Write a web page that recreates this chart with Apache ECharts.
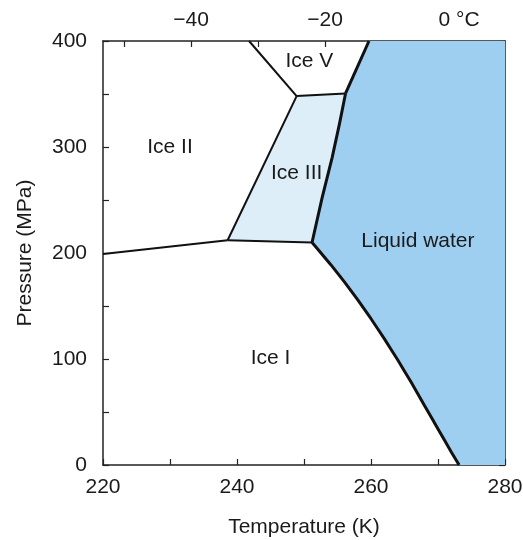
<!DOCTYPE html>
<html>
<head>
<meta charset="utf-8">
<script src="https://cdn.jsdelivr.net/npm/echarts@6/dist/echarts.min.js"></script>
<style>html,body{margin:0;padding:0;background:#fff}#c{width:523px;height:540px}</style>
</head>
<body>
<div id="c"></div>
<script>
// Phase boundaries (Temperature K, Pressure MPa)
const iceI_II = [[220, 199], [238.6, 212]];
const iceI_III = [[238.6, 212], [251.2, 209.9]];
const iceII_III = [[238.6, 212], [248.9, 348]];
const iceII_V = [[248.9, 348], [241.8, 400]];
const iceIII_V = [[248.9, 348], [256.2, 350.5]];
const iceI_liquid = [[251.2, 209.9], [252, 204], [253, 196.5], [254, 189], [255, 181], [256, 173], [257, 164.5],
  [258, 156], [259, 147], [260, 138], [261, 128.5], [262, 119], [263, 109], [264, 99], [265, 88.5], [266, 78],
  [267, 67], [268, 56], [269, 45], [270, 34], [271, 23], [272, 12], [273.15, 0]];
const iceIII_liquid = [[251.2, 209.9], [252.7, 252], [254.2, 290], [255.3, 322], [256.2, 350.5]];
const iceV_liquid = [[256.2, 350.5], [259.7, 400]];
const cornersLiquid = [[280, 0], [280, 400]];
// Labels
const phaseLabels = ['Ice V', 'Ice II', 'Ice III', 'Liquid water', 'Ice I'];
const phaseLabelPos = [[250.8, 381], [230.0, 300], [248.9, 275], [267.0, 211], [245.0, 101]];
// Axis ticks
const topTicksC = [-50, -40, -30, -20, -10, 0];
const topLabelsC = [-40, -20, 0];

const liquidPoly = []
  .concat(iceI_liquid.slice().reverse())
  .concat(iceIII_liquid.slice(1))
  .concat(iceV_liquid.slice(1))
  .concat([cornersLiquid[1], cornersLiquid[0]]);
const iceIIIPoly = []
  .concat(iceI_III)
  .concat(iceIII_liquid.slice(1))
  .concat([iceIII_V[0]]);

function polySeries(points, color) {
  return {
    type: 'custom',
    coordinateSystem: 'cartesian2d',
    xAxisIndex: 0, yAxisIndex: 0,
    data: [0],
    silent: true,
    z: 1,
    renderItem: function (params, api) {
      return {
        type: 'polygon',
        shape: { points: points.map(p => api.coord(p)) },
        style: { fill: color, stroke: null }
      };
    }
  };
}
function lineSeries(data, w) {
  return {
    type: 'line', data: data, xAxisIndex: 0, yAxisIndex: 0,
    symbol: 'none', silent: true, z: 3,
    lineStyle: { color: '#111', width: w, join: 'round' },
    clip: true
  };
}
const FONT = 'Liberation Sans, Arial, sans-serif';
const FS = 21;
const TXT = '#1a1a1a';
const chart = echarts.init(document.getElementById('c'), null, { renderer: 'canvas' });
chart.setOption({
  animation: false,
  backgroundColor: '#fff',
  grid: { left: 103, right: 18, top: 41, bottom: 75, outerBoundsMode: 'none', containLabel: false },
  xAxis: [
    {
      type: 'value', min: 220, max: 280, interval: 10, position: 'bottom',
      name: 'Temperature (K)', nameLocation: 'middle', nameGap: 52,
      nameTextStyle: { fontFamily: FONT, fontSize: FS, color: TXT },
      axisLine: { show: true, onZero: false, lineStyle: { color: '#222', width: 1.5 } },
      axisTick: { show: true, inside: true, length: 6, lineStyle: { color: '#222', width: 1.2 } },
      axisLabel: { fontFamily: FONT, fontSize: FS, color: TXT, margin: 12,
        formatter: v => (v % 20 === 0 ? String(v) : '') },
      splitLine: { show: false }
    },
    {
      type: 'value', min: 220 - 273.15, max: 280 - 273.15, position: 'top',
      axisLine: { show: true, onZero: false, lineStyle: { color: '#222', width: 1.5 } },
      axisTick: { show: true, inside: true, length: 6, customValues: topTicksC, lineStyle: { color: '#222', width: 1.2 } },
      axisLabel: { fontFamily: FONT, fontSize: FS, color: TXT, margin: 10, customValues: topLabelsC,
        formatter: v => (v === 0 ? '0 \u00B0C' : '\u2212' + Math.abs(v)) },
      splitLine: { show: false }
    }
  ],
  yAxis: [
    {
      type: 'value', min: 0, max: 400, interval: 50, position: 'left',
      name: 'Pressure (MPa)', nameLocation: 'middle', nameGap: 67, nameRotate: 90,
      nameTextStyle: { fontFamily: FONT, fontSize: FS, color: TXT },
      axisLine: { show: true, onZero: false, lineStyle: { color: '#222', width: 1.5 } },
      axisTick: { show: true, inside: true, length: 6, lineStyle: { color: '#222', width: 1.2 } },
      axisLabel: { fontFamily: FONT, fontSize: FS, color: TXT, margin: 16,
        formatter: v => (v % 100 === 0 ? String(v) : '') },
      splitLine: { show: false }
    },
    {
      type: 'value', min: 0, max: 400, interval: 50, position: 'right',
      axisLine: { show: true, onZero: false, lineStyle: { color: '#222', width: 1.5 } },
      axisTick: { show: true, inside: true, length: 6, lineStyle: { color: '#222', width: 1.2 } },
      axisLabel: { show: false },
      splitLine: { show: false }
    }
  ],
  series: [
    polySeries(liquidPoly, '#9ecff0'),
    polySeries(iceIIIPoly, '#ddeef8'),
    lineSeries(iceI_II, 2),
    lineSeries(iceI_III, 2),
    lineSeries(iceII_III, 2),
    lineSeries(iceII_V, 2),
    lineSeries(iceIII_V, 2),
    lineSeries(iceI_liquid, 3),
    lineSeries(iceIII_liquid, 3),
    lineSeries(iceV_liquid, 3),
    {
      type: 'scatter', xAxisIndex: 0, yAxisIndex: 0, silent: true, z: 5,
      symbolSize: 1,
      itemStyle: { opacity: 1, color: 'rgba(0,0,0,0)' },
      data: phaseLabels.map((t, i) => ({ value: phaseLabelPos[i], name: t })),
      label: { show: true, position: 'inside', formatter: p => p.name, opacity: 1,
        fontFamily: FONT, fontSize: FS, color: TXT, textBorderWidth: 0 }
    }
  ]
});
</script>
</body>
</html>
